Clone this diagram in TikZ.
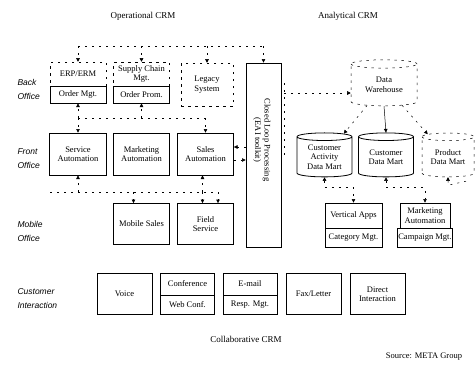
\documentclass[tikz,border=0pt]{standalone}
\usepackage{fontspec}
\setmainfont{Liberation Serif}
\newfontfamily\rowfont{Liberation Sans}
\usetikzlibrary{shapes.geometric,arrows.meta}

\tikzset{
  txt/.style={font=\fontsize{8.5}{9.5}\selectfont},
  box/.style={txt, draw, line width=0.8pt, inner sep=0.5pt, align=center},
  dbox/.style={txt, draw, dash pattern=on 2.5pt off 4.5pt, line width=0.5pt, inner sep=0.5pt, align=center},
  drum/.style={txt, draw, line width=0.8pt, cylinder, shape border rotate=90, aspect=0.22,
    minimum width=55pt, minimum height=44pt, inner sep=0pt, align=center},
  rowlab/.style={anchor=west, align=left, font=\rowfont\itshape\fontsize{8.5}{14}\selectfont},
  title/.style={font=\fontsize{9}{10}\selectfont},
  tip/.style={-{Triangle[width=3.6pt,length=3.6pt]}},
  bus/.style={dash pattern=on 2pt off 5pt, line width=0.5pt},
  link/.style={bus, tip},
  solidlink/.style={line width=0.5pt, tip},
  twoway/.style={bus, {Triangle[width=3.6pt,length=3.6pt]}-{Triangle[width=3.6pt,length=3.6pt]}}
}

\begin{document}
\begin{tikzpicture}[x=1pt, y=-1pt]
\useasboundingbox (0,0) rectangle (475,367);

% headings
\node[title] (opcrm) at (143,16) {Operational CRM};
\node[title] (ancrm) at (348,16) {Analytical CRM};

% row labels
\node[rowlab] (lback)   at (14,89)  {Back\\Office};
\node[rowlab] (lfront)  at (14,159) {Front\\Office};
\node[rowlab] (lmobile) at (14,231) {Mobile\\Office};
\node[rowlab] (lcust)   at (14,299) {Customer\\Interaction};

% back office
\node[dbox, minimum width=56pt, minimum height=24pt] (erp) at (78,74) {ERP/ERM};
\node[box, minimum width=56pt, minimum height=17pt] (ordmgt) at (78,94.5) {Order Mgt.};
\node[dbox, minimum width=56pt, minimum height=24pt] (scm) at (141.5,74) {Supply Chain\\Mgt.};
\node[box, minimum width=56pt, minimum height=17pt] (ordprom) at (141.5,94.5) {Order Prom.};
\node[dbox, minimum width=52pt, minimum height=43pt] (legacy) at (207,84.5) {Legacy\\System};

% closed loop column
\node[box, minimum width=35pt, minimum height=184pt] (clp) at (263.5,155) {};
\node[txt, rotate=-90, align=center] (clptxt) at (262,140)
  {Closed Loop Processing\\(EAI toolkit)};

% front office
\node[box, minimum width=57pt, minimum height=42pt] (service) at (78,154) {Service\\Automation};
\node[box, minimum width=56pt, minimum height=42pt] (mktg) at (141.5,154) {Marketing\\Automation};
\node[box, minimum width=56pt, minimum height=42pt] (sales) at (205.5,154) {Sales\\Automation};

% mobile office
\node[box, minimum width=56pt, minimum height=41pt] (mobsales) at (141.5,224) {Mobile Sales};
\node[box, minimum width=56pt, minimum height=41pt] (field) at (205.5,224) {Field\\Service};

% customer interaction
\node[box, minimum width=55pt, minimum height=41pt] (voice) at (124.5,294) {Voice};
\node[box, minimum width=54pt, minimum height=22pt] (conf) at (187.5,284) {Conference};
\node[box, minimum width=54pt, minimum height=19pt] (webconf) at (187.5,304.5) {Web Conf.};
\node[box, minimum width=54pt, minimum height=22pt] (email) at (250,284) {E-mail};
\node[box, minimum width=54pt, minimum height=19pt] (respmgt) at (250,304.5) {Resp. Mgt.};
\node[box, minimum width=55pt, minimum height=41pt] (fax) at (313.5,294) {Fax/Letter};
\node[box, minimum width=55pt, minimum height=41pt] (direct) at (377.5,294) {Direct\\Interaction};

\node[title] (collab) at (246,339) {Collaborative CRM};
\node[txt] (source) at (424,357) {Source: META Group};

% analytical side
\node[drum, dash pattern=on 2.5pt off 4.5pt, line width=0.5pt, minimum width=66pt, minimum height=46pt] (dw) at (384,85) {Data\\Warehouse};
\node[drum] (cam) at (324.5,157) {Customer\\Activity\\Data Mart};
\node[drum] (cdm) at (386,157) {Customer\\Data Mart};
\node[drum, dash pattern=on 2.5pt off 4.5pt, line width=0.5pt, minimum width=52pt] (pdm) at (448,157) {Product\\Data Mart};

\node[box, minimum width=57pt, minimum height=25pt] (vapps) at (353.5,215.5) {Vertical Apps};
\node[box, minimum width=57pt, minimum height=19pt] (catmgt) at (353.5,237.5) {Category Mgt.};
\node[box, minimum width=50pt, minimum height=25pt] (mkt2) at (425,215.5) {Marketing\\Automation};
\node[box, minimum width=50pt, minimum height=19pt] (campmgt) at (425,237.5) {Campaign Mgt.};

% bus coordinates
\coordinate (topbusL) at (78,46);
\coordinate (topbusR) at (263.5,46);
\coordinate (midbusL) at (78,118);
\coordinate (midbusR) at (207,118);
\coordinate (lowbusL) at (50,192);
\coordinate (lowbusR) at (218,192);
\coordinate (dwtapT) at (284,83);
\coordinate (dwtapB) at (284,157);
\coordinate (dwtap) at (284,93);

% top distribution line
\draw[bus] (topbusL) -- (topbusR);
\draw[link] (topbusL) -- (erp.north);
\draw[link] (scm.north |- topbusL) -- (scm.north);
\draw[link] (legacy.north |- topbusL) -- (legacy.north);
\draw[link] (topbusR) -- (clp.north);

% back <-> front
\draw[bus] (midbusL) -- (midbusR);
\draw[link] (midbusL) -- (ordmgt.south);
\draw[link] (ordprom.south |- midbusL) -- (ordprom.south);
\draw[link] (midbusL) -- (service.north);
\draw[link] (sales.north |- midbusL) -- (sales.north);

% closed loop <-> sales
\draw[link] (clp.west |- 0,147) -- (sales.east |- 0,147);
\draw[link] (sales.east |- 0,160) -- (clp.west |- 0,160);

% front <-> mobile
\draw[bus] (lowbusL) -- (lowbusR);
\draw[link] (service.south |- lowbusL) -- (service.south);
\draw[link] ([xshift=-3pt]sales.south |- lowbusL) -- ([xshift=-3pt]sales.south);
\draw[link] ([xshift=-8pt]mobsales.north |- lowbusL) -- ([xshift=-8pt]mobsales.north);
\draw[link] ([xshift=-3pt]field.north |- lowbusL) -- ([xshift=-3pt]field.north);
\draw[link] (lowbusR) -- (field.north -| lowbusR);

% closed loop -> data warehouse
\draw[bus] (dwtapT) -- (dwtapB);
\draw[link] (dwtap) -- (dw.west |- dwtap);

% warehouse -> data marts
\draw[link] (dw) -- (cam);
\draw[solidlink] (dw.south) -- (cdm.north);
\draw[link] (dw) -- (pdm);

% data marts <-> applications
\draw[twoway] (cam.south) -- ++(0,10) -| (vapps.north);
\draw[twoway] (cdm.south) -- ++(0,10) -| (mkt2.north);
\draw[bus, {Triangle[width=3.6pt,length=3.6pt]}-] (pdm.south) -- ++(0,8) -- ++(18,-4);
\end{tikzpicture}
\end{document}
